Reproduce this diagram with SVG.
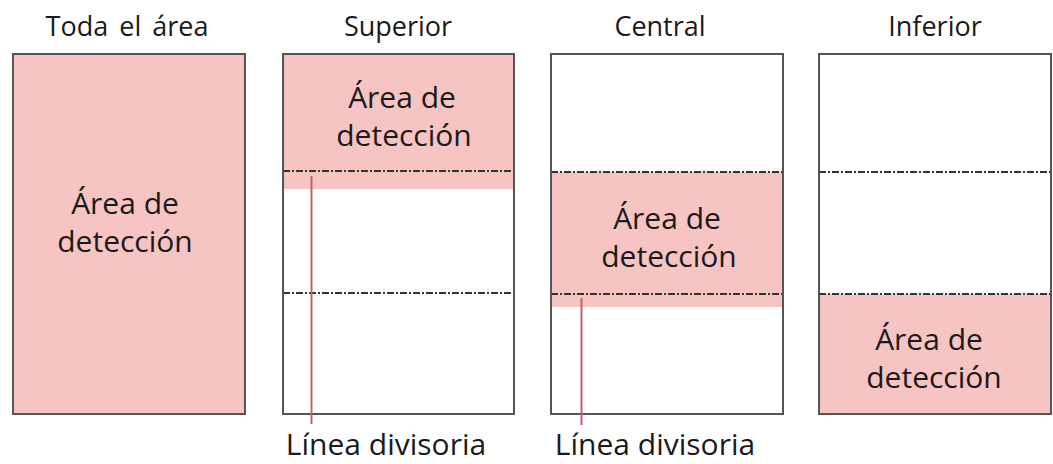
<svg xmlns="http://www.w3.org/2000/svg" width="1053" height="464" viewBox="0 0 1053 464">
<style>
text{font-family:"Open Sans","Noto Sans",sans-serif;fill:#1a1a1a;text-anchor:middle}
.t{font-size:27px}
.l{font-size:30px}
.box{fill:none;stroke:#555;stroke-width:2}
.pink{fill:#f7c4c4}
.div{stroke:#333;stroke-width:1.8;stroke-dasharray:7 2 2 2;fill:none}
.lead{stroke:#c2606a;stroke-width:2;fill:none}
</style>
<rect width="1053" height="464" fill="#fff"/>
<g id="toda">
<text class="t" x="127" y="36" word-spacing="4">Toda el área</text>
<rect class="pink" x="13" y="54" width="232" height="360"/>
<rect class="box" x="13" y="54" width="232" height="360"/>
<text class="l" x="125" y="214">Área de</text>
<text class="l" x="125" y="252">detección</text>
</g>
<g id="superior">
<text class="t" x="398" y="36">Superior</text>
<rect class="pink" x="283" y="54" width="231" height="135"/>
<line class="div" x1="283" y1="171" x2="514" y2="171"/>
<line class="div" x1="283" y1="293" x2="514" y2="293"/>
<rect class="box" x="283" y="54" width="231" height="360"/>
<text class="l" x="402" y="108">Área de</text>
<text class="l" x="404" y="146">detección</text>
</g>
<g id="central">
<text class="t" x="660" y="36">Central</text>
<rect class="pink" x="551" y="172" width="232" height="135"/>
<line class="div" x1="551" y1="172" x2="783" y2="172"/>
<line class="div" x1="551" y1="294" x2="783" y2="294"/>
<rect class="box" x="551" y="54" width="232" height="360"/>
<text class="l" x="667" y="229">Área de</text>
<text class="l" x="669" y="267">detección</text>
</g>
<g id="inferior">
<text class="t" x="935" y="36">Inferior</text>
<rect class="pink" x="819" y="294" width="232" height="120"/>
<line class="div" x1="819" y1="172" x2="1051" y2="172"/>
<line class="div" x1="819" y1="294" x2="1051" y2="294"/>
<rect class="box" x="819" y="54" width="232" height="360"/>
<text class="l" x="929" y="350">Área de</text>
<text class="l" x="934" y="388">detección</text>
</g>
<g id="connectors">
<line class="lead" x1="311.5" y1="176" x2="311.5" y2="424"/>
<line class="lead" x1="581.5" y1="298" x2="581.5" y2="425"/>
</g>
<g id="labels">
<text class="l" x="386" y="455">Línea divisoria</text>
<text class="l" x="655" y="455">Línea divisoria</text>
</g>
</svg>
